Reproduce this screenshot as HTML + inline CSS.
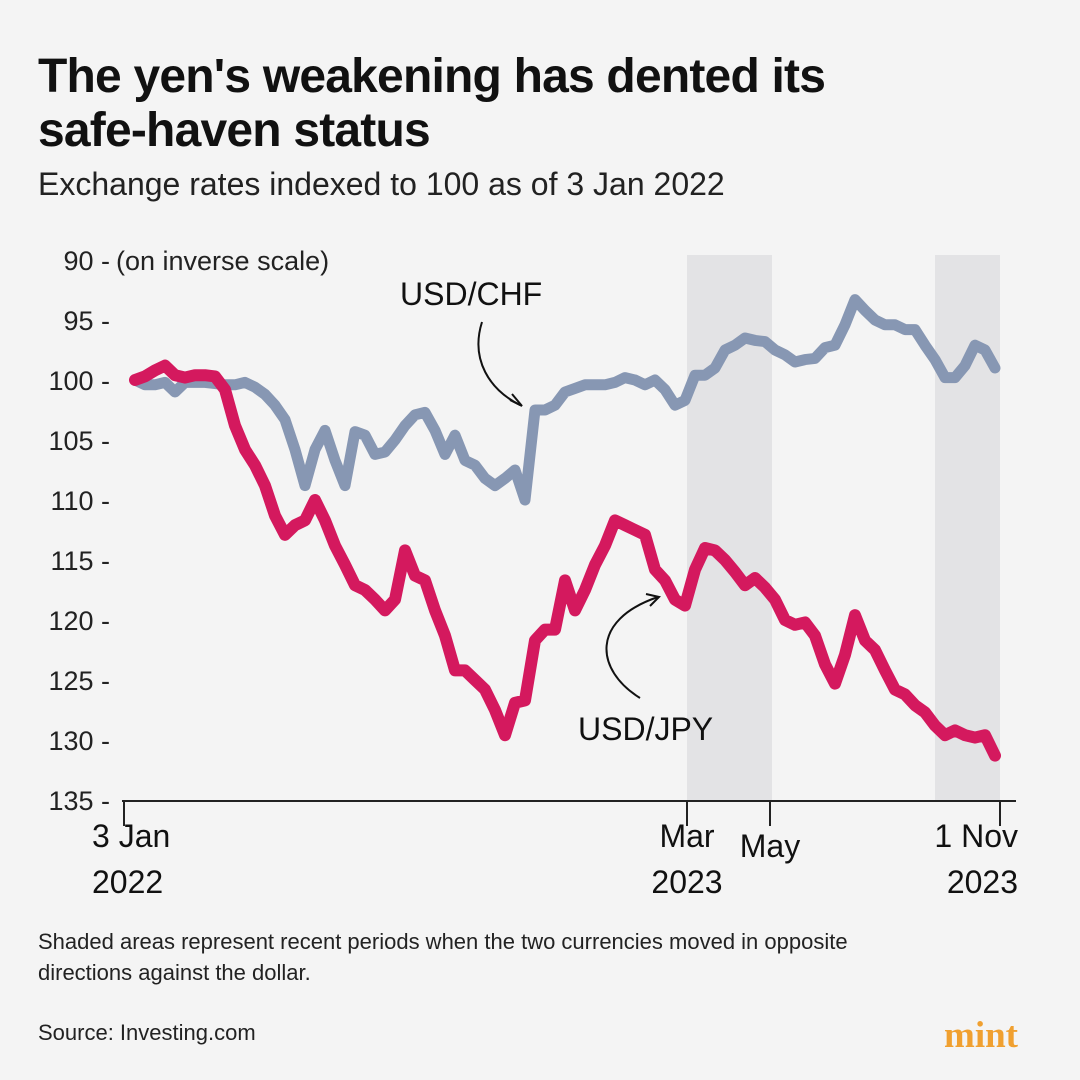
<!DOCTYPE html>
<html><head><meta charset="utf-8"><style>
body{margin:0;background:#f4f4f4;width:1080px;height:1080px;overflow:hidden;font-family:"Liberation Sans",sans-serif;color:#111}
.t{position:absolute;left:38px;top:50px;font-size:48px;font-weight:bold;line-height:54px;letter-spacing:-0.8px}
.s{position:absolute;left:38px;top:166px;font-size:32px;color:#222}
.n{position:absolute;left:38px;top:926px;font-size:22px;line-height:31px;color:#222;width:905px}
.src{position:absolute;left:38px;top:1020px;font-size:22px;color:#222}
.logo{position:absolute;left:944px;top:1014px;font-size:37px;font-weight:bold;color:#f0a030;font-family:"Liberation Serif",serif}
</style></head><body>
<div class="t">The yen's weakening has dented its<br>safe-haven status</div>
<div class="s">Exchange rates indexed to 100 as of 3 Jan 2022</div>
<svg id="c" width="1080" height="1080" style="position:absolute;left:0;top:0"></svg>
<div class="n">Shaded areas represent recent periods when the two currencies moved in opposite directions against the dollar.</div>
<div class="src">Source: Investing.com</div>
<div class="logo">mint</div>
<script>
const chf=[100,100.4,100.4,100.2,101,100.2,100.2,100.2,100.3,100.4,100.4,100.2,100.6,101.2,102.1,103.3,105.8,108.8,105.8,104.2,106.7,108.8,104.3,104.6,106.2,106,105,103.8,102.9,102.7,104.2,106.2,104.6,106.7,107.1,108.2,108.8,108.2,107.5,110,102.5,102.5,102.1,101,100.7,100.4,100.4,100.4,100.2,99.8,100,100.4,100,100.8,102.1,101.7,99.6,99.6,99,97.5,97.1,96.5,96.7,96.8,97.5,97.9,98.5,98.3,98.2,97.3,97.1,95.4,93.3,94.2,95,95.4,95.4,95.8,95.8,97.1,98.3,99.8,99.8,98.8,97.1,97.5,99];
const jpy=[100,99.7,99.2,98.8,99.6,99.8,99.6,99.6,99.7,100.8,103.8,105.8,107.1,108.8,111.3,112.9,112.1,111.7,110,111.7,113.8,115.4,117.1,117.5,118.3,119.2,118.3,114.2,116.3,116.7,119.2,121.3,124.2,124.2,125,125.8,127.5,129.6,126.9,126.7,121.7,120.8,120.8,116.7,119.2,117.5,115.4,113.8,111.7,112.1,112.5,112.9,115.8,116.7,118.3,118.8,115.8,114,114.2,115,116,117.1,116.5,117.3,118.3,120,120.4,120.2,121.3,123.7,125.3,122.9,119.6,121.7,122.5,124.2,125.8,126.2,127.1,127.7,128.8,129.6,129.2,129.6,129.8,129.6,131.3];
const yTicks=[90,95,100,105,110,115,120,125,130,135];
const xTickIdx=[-1,55.2,63.5,86.5];
const xTickLabels=[["3 Jan","2022"],["Mar","2023"],["May",""],["1 Nov","2023"]];
const shades=[[55.2,63.7],[80,86.5]];
const NS="http://www.w3.org/2000/svg",svg=document.getElementById('c');
const X=i=>135+i*10, Y=v=>380+(v-100)*12;
function mk(t,a,p){const e=document.createElementNS(NS,t);for(const k in a)e.setAttribute(k,a[k]);(p||svg).appendChild(e);return e;}
shades.forEach(s=>{const r=mk('rect',{x:X(s[0]),y:255,width:X(s[1])-X(s[0]),height:546,fill:'#e3e3e5'});

});
yTicks.forEach(v=>{const t=mk('text',{x:110,y:Y(v)+10,'text-anchor':'end','font-size':27,fill:'#222'});t.textContent=v+' -';

});
const u=mk('text',{x:116,y:Y(90)+10,'font-size':27,fill:'#222'});u.textContent='(on inverse scale)';


const ax=mk('line',{x1:122,y1:801,x2:1016,y2:801,stroke:'#222','stroke-width':2});


xTickIdx.forEach((i,k)=>{const x=i<0?124:X(i);mk('line',{x1:x,y1:801,x2:x,y2:826,stroke:'#222','stroke-width':2});
const lb=xTickLabels[k],anc=k==0?'start':(k==3?'end':'middle'),tx=k==0?92:(k==3?1018:x);
const dy=k==2?857:847;
const t=mk('text',{x:tx,y:dy,'text-anchor':anc,'font-size':32,fill:'#111'});t.textContent=lb[0];


if(lb[1]){const t2=mk('text',{x:tx,y:dy+46,'text-anchor':anc,'font-size':32,fill:'#111'});t2.textContent=lb[1];

}});
function line(d,c,w,n){const p=mk('path',{d:d.map((v,i)=>(i?'L':'M')+X(i)+','+Y(v)).join(''),fill:'none',stroke:c,'stroke-width':w,'stroke-linejoin':'round','stroke-linecap':'round'});

}
line(chf,'#8797b3',11,'usd-chf-line');
line(jpy,'#d4195e',12,'usd-jpy-line');
const l1=mk('text',{x:400,y:305,'font-size':32,fill:'#111'});l1.textContent='USD/CHF';


const l2=mk('text',{x:578,y:740,'font-size':32,fill:'#111'});l2.textContent='USD/JPY';


mk('path',{d:'M482,322 C470,360 490,390 520,405',fill:'none',stroke:'#111','stroke-width':2});
mk('path',{d:'M510,400 L522,406 L512,394',fill:'none',stroke:'#111','stroke-width':2});
mk('path',{d:'M640,698 C595,670 590,620 658,597',fill:'none',stroke:'#111','stroke-width':2});
mk('path',{d:'M646,594 L659,597 L650,606',fill:'none',stroke:'#111','stroke-width':2});
</script>
</body></html>
